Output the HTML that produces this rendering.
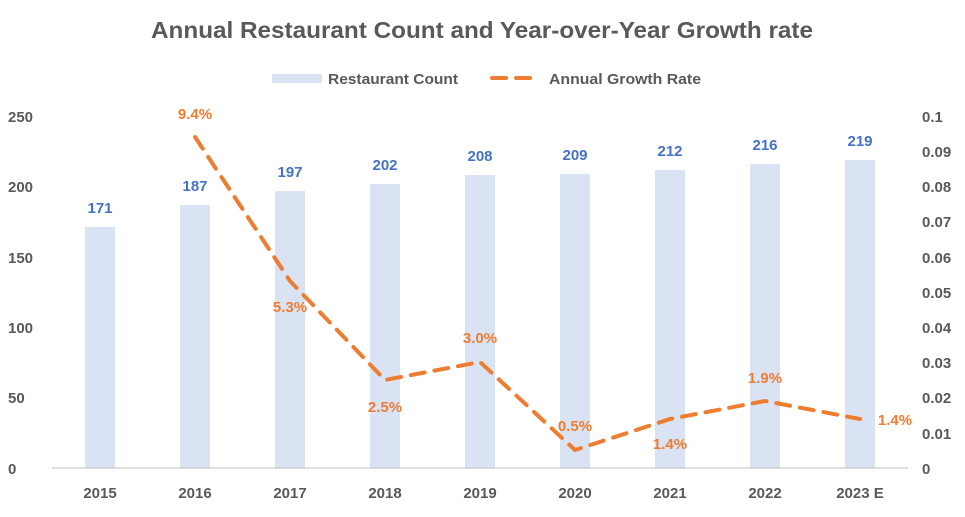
<!DOCTYPE html>
<html><head><meta charset="utf-8"><style>
html,body{margin:0;padding:0;background:#fff;}
svg text{font-family:"Liberation Sans",sans-serif;font-weight:bold;}
</style></head><body>
<svg width="965" height="512" xmlns="http://www.w3.org/2000/svg">
<text x="482" y="38" text-anchor="middle" font-size="23" fill="#595959" textLength="662" lengthAdjust="spacingAndGlyphs">Annual Restaurant Count and Year-over-Year Growth rate</text>
<rect x="272" y="74" width="50" height="9" fill="#dae3f3"/>
<text x="328" y="84" font-size="15" fill="#595959" textLength="130" lengthAdjust="spacingAndGlyphs">Restaurant Count</text>
<line x1="492" y1="78" x2="540" y2="78" stroke="#ed7d31" stroke-width="4" stroke-dasharray="14,10" stroke-linecap="round"/>
<text x="549" y="84" font-size="15" fill="#595959" textLength="152" lengthAdjust="spacingAndGlyphs">Annual Growth Rate</text>
<g font-size="15" fill="#595959" text-anchor="start">
<text x="8" y="474">0</text><text x="8" y="403">50</text><text x="8" y="333">100</text><text x="8" y="263">150</text><text x="8" y="192">200</text><text x="8" y="122">250</text>
</g>
<g font-size="15" fill="#595959">
<text x="922" y="474">0</text><text x="922" y="439">0.01</text><text x="922" y="403">0.02</text><text x="922" y="368">0.03</text><text x="922" y="333">0.04</text><text x="922" y="298">0.05</text><text x="922" y="263">0.06</text><text x="922" y="227">0.07</text><text x="922" y="192">0.08</text><text x="922" y="157">0.09</text><text x="922" y="122">0.1</text>
</g>
<g fill="#dae3f3">
<rect x="85" y="227" width="30" height="241"/>
<rect x="180" y="205" width="30" height="263"/>
<rect x="275" y="191" width="30" height="277"/>
<rect x="370" y="184" width="30" height="284"/>
<rect x="465" y="175" width="30" height="293"/>
<rect x="560" y="174" width="30" height="294"/>
<rect x="655" y="170" width="30" height="298"/>
<rect x="750" y="164" width="30" height="304"/>
<rect x="845" y="160" width="30" height="308"/>
</g>
<line x1="52" y1="468" x2="908" y2="468" stroke="#bfbfbf" stroke-width="1"/>
<g font-size="15" fill="#4472c4" text-anchor="middle">
<text x="100" y="213">171</text><text x="195" y="191">187</text><text x="290" y="177">197</text><text x="385" y="170">202</text><text x="480" y="161">208</text><text x="575" y="160">209</text><text x="670" y="156">212</text><text x="765" y="150">216</text><text x="860" y="146">219</text>
</g>
<polyline points="195,137 290,281 385,380 480,362 575,450 670,419 765,401 860,419" fill="none" stroke="#ed7d31" stroke-width="4" stroke-dasharray="14,10" stroke-linecap="round"/>
<g font-size="15" fill="#ed7d31" text-anchor="middle">
<text x="195" y="119">9.4%</text><text x="290" y="312">5.3%</text><text x="385" y="412">2.5%</text><text x="480" y="343">3.0%</text><text x="575" y="431">0.5%</text><text x="670" y="449">1.4%</text><text x="765" y="383">1.9%</text><text x="895" y="425">1.4%</text>
</g>
<g font-size="15" fill="#595959" text-anchor="middle">
<text x="100" y="498">2015</text><text x="195" y="498">2016</text><text x="290" y="498">2017</text><text x="385" y="498">2018</text><text x="480" y="498">2019</text><text x="575" y="498">2020</text><text x="670" y="498">2021</text><text x="765" y="498">2022</text><text x="860" y="498">2023 E</text>
</g>
</svg>
</body></html>
